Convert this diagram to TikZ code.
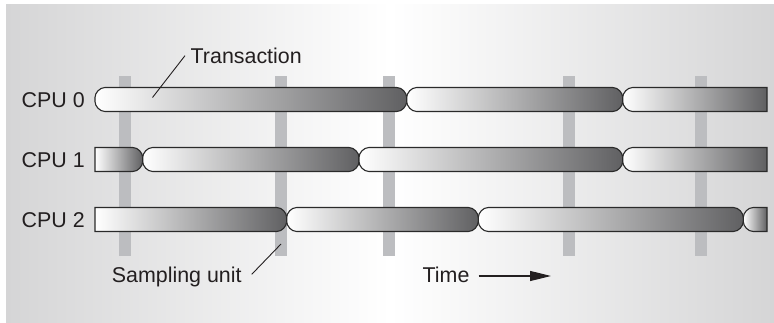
\documentclass[tikz,border=0pt]{standalone}
\usepackage{fontspec}
\setmainfont{Liberation Sans}
\usetikzlibrary{arrows.meta}
\definecolor{bgside}{HTML}{D5D5D6}
\definecolor{sampcol}{HTML}{BCBDC0}
\definecolor{txdark}{HTML}{606062}
\definecolor{txline}{HTML}{2A2A2A}
\definecolor{inkcol}{HTML}{231F20}
% right end pieces (x, ytop)
\newcommand\Rr[2]{-- (#1-10,#2) .. controls (#1-4.48,#2) and (#1,#2+5.52) .. (#1,#2+10) -- (#1,#2+14) .. controls (#1,#2+18.48) and (#1-4.48,#2+24) .. (#1-10,#2+24)}
\newcommand\Rs[2]{-- (#1,#2) -- (#1,#2+24)}
% left end pieces (x, ytop)
\newcommand\Lr[2]{-- (#1+10,#2+24) .. controls (#1+4.48,#2+24) and (#1,#2+18.48) .. (#1,#2+14) -- (#1,#2+10) .. controls (#1,#2+5.52) and (#1+4.48,#2) .. (#1+10,#2)}
\newcommand\Ls[2]{-- (#1,#2+24) -- (#1,#2)}
\tikzset{
  txbar/.style={draw=txline, line width=1.1pt, left color=white, right color=txdark},
  lbl/.style={inner sep=0pt, anchor=base west, text=inkcol, font=\fontsize{21.4}{24}\selectfont},
  leader/.style={draw=inkcol, line width=0.9pt},
  sampbar/.style={fill=sampcol}
}
\begin{document}
\begin{tikzpicture}[x=1pt, y=-1pt]
\useasboundingbox (0,0) rectangle (774,323);
% background
\fill[left color=bgside, right color=bgside, middle color=white] (6,5) rectangle (774,322.5);
% sampling units
\foreach \c in {125,281,389,569,701}
  \fill[sampbar] (\c-5.7,76) rectangle (\c+5.7,256);
% CPU 0
\path[txbar] (250,87.5) \Rr{406.7}{87.5} \Lr{95}{87.5} -- cycle;
\path[txbar] (500,87.5) \Rr{622.7}{87.5} \Lr{406.7}{87.5} -- cycle;
\path[txbar] (700,87.5) \Rs{767}{87.5} \Lr{622.7}{87.5} -- cycle;
% CPU 1
\path[txbar] (120,147.5) \Rr{142.7}{147.5} \Ls{95}{147.5} -- cycle;
\path[txbar] (250,147.5) \Rr{359}{147.5} \Lr{142.7}{147.5} -- cycle;
\path[txbar] (500,147.5) \Rr{622.7}{147.5} \Lr{359}{147.5} -- cycle;
\path[txbar] (700,147.5) \Rs{767}{147.5} \Lr{622.7}{147.5} -- cycle;
% CPU 2
\path[txbar] (200,207.5) \Rr{286.7}{207.5} \Ls{95}{207.5} -- cycle;
\path[txbar] (400,207.5) \Rr{478.3}{207.5} \Lr{286.7}{207.5} -- cycle;
\path[txbar] (600,207.5) \Rr{743.3}{207.5} \Lr{478.3}{207.5} -- cycle;
\path[txbar] (755,207.5) \Rs{767}{207.5} \Lr{743.3}{207.5} -- cycle;
% labels
\node[lbl] (cpu0) at (21.5,107.8) {CPU 0};
\node[lbl] (cpu1) at (21.5,167.8) {CPU 1};
\node[lbl] (cpu2) at (21.5,227.8) {CPU 2};
\node[lbl] (tr) at (190.5,63.3) {Transaction};
\node[lbl] (su) at (111.7,282.7) {Sampling unit};
\node[lbl] (ti) at (422.5,282.5) {Time};
% leader lines
\coordinate (trB) at (152.5,97.5);
\coordinate (suB) at (281,244);
\coordinate (tend) at (551,276);
\draw[leader] ([xshift=-5.5pt]tr.west) -- (trB);
\draw[leader] ([shift={(10pt,8.4pt)}]su.base east) -- (suB);
\draw[draw=inkcol, line width=1.2pt, -{Triangle[length=21pt,width=10pt]}] ([shift={(9pt,6.5pt)}]ti.base east) -- (tend);
\end{tikzpicture}
\end{document}
